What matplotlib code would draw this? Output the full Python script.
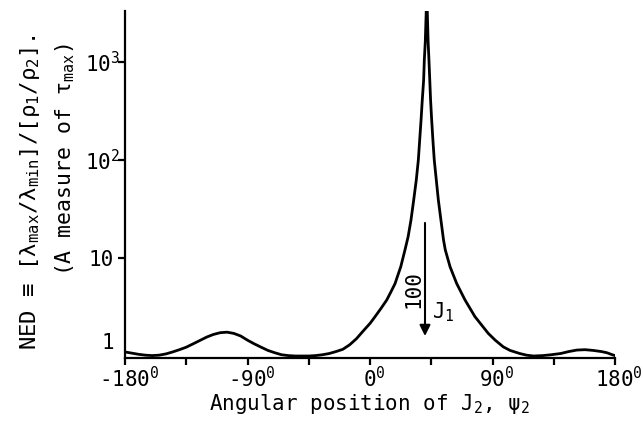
import numpy as np
import matplotlib as mpl
mpl.use('Agg')
import matplotlib.pyplot as plt
from matplotlib.ticker import NullLocator
from matplotlib.transforms import ScaledTranslation


# Curve: NED vs angular position of J2 (psi2, degrees)
psi2 = [-180, -175, -170, -165, -160, -155, -150, -145, -140, -135,
        -130, -125, -120, -115, -110, -105, -100, -95, -90, -85,
        -80, -75, -70, -65, -60, -55, -50, -45, -40, -35,
        -30, -25, -20, -15, -10, -5, 0, 3.7, 8, 12.3,
        15.5, 18.4, 20.5, 22.6, 24.2, 25.7, 28.0, 30.1, 32.1, 34.0,
        35.5, 36.5, 37.5, 38.4, 39.4, 39.9, 40.6, 41.7, 42.7, 43.3,
        43.9, 44.5, 45.3, 46.2, 47.2, 48.7, 50.2, 52.1, 54.0, 55.3,
        58.8, 63.7, 69.8, 77.1, 86.9, 92, 97.9, 102.9, 110, 115,
        120, 127, 133, 140, 146, 152, 158, 164, 170, 174,
        178, 180]
ned = [1.10, 1.07, 1.04, 1.02, 1.01, 1.02, 1.05, 1.10, 1.16, 1.23,
       1.33, 1.44, 1.56, 1.66, 1.73, 1.75, 1.70, 1.60, 1.45, 1.33,
       1.23, 1.14, 1.08, 1.03, 1.01, 1.00, 1.00, 1.00, 1.01, 1.03,
       1.06, 1.11, 1.17, 1.30, 1.50, 1.80, 2.15, 2.52, 3.05, 3.73,
       4.55, 5.48, 6.7, 8.15, 10.0, 12.1, 16.5, 24.4, 39.1, 62.5,
       100, 160, 256, 409, 655, 1048, 1600, 5000, 1600, 1048,
       655, 409, 256, 160, 100, 62.5, 39.1, 24.4, 15.3, 12.1,
       8.15, 5.48, 3.73, 2.52, 1.70, 1.45, 1.24, 1.14, 1.06, 1.02,
       1.00, 1.01, 1.03, 1.06, 1.11, 1.15, 1.16, 1.14, 1.11, 1.08,
       1.03, 1.01]

xticks = [-180, -135, -90, -45, 0, 45, 90, 135, 180]
xticklabels = ['-180$^0$', '', '-90$^0$', '', '0$^0$', '', '90$^0$', '', '180$^0$']
yticks = [1, 10, 100, 1000]
yticklabels = ['1', '10', '10$^2$', '10$^3$']

plt.rcParams['font.family'] = ['DejaVu Sans Mono', 'DejaVu Sans']
plt.rcParams['mathtext.default'] = 'regular'
fs = 15

fg = plt.figure(figsize=(6.44, 4.26), dpi=100)
fg.patch.set_facecolor('white')
ax = fg.add_axes([0.1941, 0.1596, 0.7609, 0.8146])

ax.plot(psi2, ned, color='k', lw=2.0, solid_joinstyle='round')

ax.set_yscale('log')
ax.set_xlim(-180, 180)
ax.set_ylim(0.954, 3313)

# Spines: only left and bottom
for s in ['top', 'right']:
  ax.spines[s].set_visible(False)
for s in ['left', 'bottom']:
  ax.spines[s].set_linewidth(1.6)

ax.set_xticks(xticks)
ax.set_xticklabels(xticklabels, fontsize=fs)
ax.set_yticks(yticks)
ax.set_yticklabels(yticklabels, fontsize=fs)
ax.yaxis.set_minor_locator(NullLocator())
ax.tick_params(axis='x', direction='out', length=5, width=1.6, pad=1)
ax.tick_params(axis='y', direction='out', length=5, width=1.6, pad=3)

# Digits centred on the tick, the degree sign hangs to the right
for lbl in ax.get_xticklabels():
  lbl.set_transform(lbl.get_transform() + ScaledTranslation(4/100, 0, fg.dpi_scale_trans))

# Exponent labels: the "10" lines up with the plain "10", exponent near the axis
for lbl in ax.get_yticklabels()[2:]:
  lbl.set_transform(lbl.get_transform() + ScaledTranslation(6/100, 0, fg.dpi_scale_trans))

# "1" has no tick and sits a little above the axis
t1 = ax.yaxis.get_major_ticks()[0]
t1.tick1line.set_visible(False)
t1.label1.set_transform(t1.label1.get_transform() + ScaledTranslation(0, 11/72, fg.dpi_scale_trans))

ax.set_xlabel(r'Angular position of J$_2$, $\psi_2$', fontsize=fs, labelpad=0)

# Two-line y label
fg.text(0.047, 0.550, r'NED ≡ [λ$_{max}$/λ$_{min}$]/[ρ$_1$/ρ$_2$].',
        rotation=90, ha='center', va='center', fontsize=16)
fg.text(0.101, 0.624, r'(A measure of τ$_{max}$)',
        rotation=90, ha='center', va='center', fontsize=15.5)

# Arrow showing J1 direction
ax.annotate('', xy=(40.4, 1.6), xytext=(40.4, 22.8),
            arrowprops=dict(arrowstyle='-|>', color='k', lw=1.5, mutation_scale=16,
                            shrinkA=0, shrinkB=0))
ax.text(31.6, 4.8, '100', rotation=90, ha='center', va='center', fontsize=fs)
ax.text(45.5, 2.44, r'J$_1$', ha='left', va='baseline', fontsize=fs)

fg.savefig('out.png', dpi=100)
